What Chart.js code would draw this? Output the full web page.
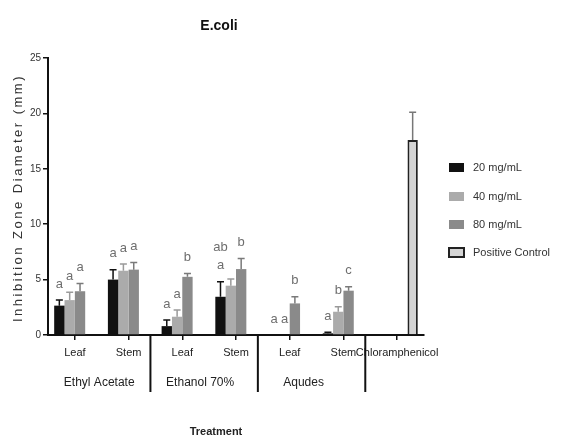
<!DOCTYPE html>
<html>
<head>
<meta charset="utf-8">
<script src="https://cdn.jsdelivr.net/npm/chart.js@4.4.1/dist/chart.umd.min.js"></script>
<style>
html,body{margin:0;padding:0;background:#fff;}
#wrap{position:relative;width:563px;height:440px;}
</style>
</head>
<body>
<div id="wrap"><canvas id="c" width="563" height="440"></canvas></div>
<script>
// ---- data ----
const chartTitle = "E.coli";
const categories = ["Leaf", "Stem", "Leaf", "Stem", "Leaf", "Stem", "Chloramphenicol"];
const groups = ["Ethyl Acetate", "Ethanol 70%", "Aqudes"];
const seriesNames = ["20 mg/mL", "40 mg/mL", "80 mg/mL", "Positive Control"];
const conc20 = [2.65, 5.0, 0.8, 3.45, 0, 0.15, null];
const err20  = [0.5, 0.9, 0.55, 1.35, 0, 0.1, null];
const conc40 = [3.15, 5.8, 1.65, 4.45, 0, 2.1, null];
const err40  = [0.7, 0.6, 0.6, 0.6, 0, 0.45, null];
const conc80 = [3.95, 5.9, 5.25, 5.95, 2.85, 4.0, null];
const err80  = [0.7, 0.65, 0.3, 0.95, 0.6, 0.35, null];
const posCtrl = [null, null, null, null, null, null, 17.6];
const errPos  = [null, null, null, null, null, null, 2.5];
const letters20 = ["a", "a", "a", "ab\na", "a", "a", ""];
const letters40 = ["a", "a", "a", "", "a", "b", ""];
const letters80 = ["a", "a", "b", "b", "b", "c", ""];
const yTicks = [0, 5, 10, 15, 20, 25];
const xTitle = "Treatment";
const yTitle = "Inhibition Zone Diameter (mm)";

const errs = [err20, err40, err80, errPos];
const letterSets = [letters20, letters40, letters80, null];

const FONT = "'Liberation Sans', Arial, sans-serif";

const errorBarPlugin = {
  id: 'errorBars',
  afterDatasetsDraw(chart) {
    const ctx = chart.ctx, ys = chart.scales.y;
    chart.data.datasets.forEach((ds, d) => {
      const meta = chart.getDatasetMeta(d);
      meta.data.forEach((bar, j) => {
        const v = ds.data[j], e = errs[d][j];
        if (v == null || !e) return;
        const yTop = ys.getPixelForValue(v + e);
        const yVal = ys.getPixelForValue(v);
        ctx.save();
        ctx.strokeStyle = ds.errColor;
        ctx.lineWidth = 1.5;
        ctx.beginPath();
        ctx.moveTo(bar.x, yVal);
        ctx.lineTo(bar.x, yTop);
        ctx.moveTo(bar.x - 3.5, yTop);
        ctx.lineTo(bar.x + 3.5, yTop);
        ctx.stroke();
        ctx.restore();
      });
    });
  }
};

const letterPlugin = {
  id: 'letters',
  afterDatasetsDraw(chart) {
    const ctx = chart.ctx, ys = chart.scales.y;
    ctx.save();
    ctx.font = "13px " + FONT;
    ctx.fillStyle = "#6e6e6e";
    ctx.textAlign = "center";
    ctx.textBaseline = "middle";
    chart.data.datasets.forEach((ds, d) => {
      const set = letterSets[d];
      if (!set) return;
      const meta = chart.getDatasetMeta(d);
      meta.data.forEach((bar, j) => {
        const txt = set[j];
        if (!txt) return;
        const v = ds.data[j] || 0, e = errs[d][j] || 0;
        const base = ys.getPixelForValue(v + e) - 16;
        const lines = txt.split("\n").reverse();
        lines.forEach((ln, k) => {
          if (ln) ctx.fillText(ln, bar.x, base - k * 18);
        });
      });
    });
    ctx.restore();
  }
};

const decorPlugin = {
  id: 'decor',
  afterDraw(chart) {
    const ctx = chart.ctx, xs = chart.scales.x, area = chart.chartArea;
    ctx.save();
    // title
    ctx.font = "bold 14px " + FONT;
    ctx.fillStyle = "#111";
    ctx.textAlign = "center";
    ctx.textBaseline = "middle";
    ctx.fillText(chartTitle, 219, 26);
    // separators
    const seps = [area.left];
    for (let i = 1; i <= groups.length; i++) {
      seps.push((xs.getPixelForValue(2 * i - 1) + xs.getPixelForValue(2 * i)) / 2 - 5);
    }
    ctx.strokeStyle = "#111";
    ctx.lineWidth = 2;
    seps.slice(1).forEach(x => {
      ctx.beginPath();
      ctx.moveTo(x, area.bottom);
      ctx.lineTo(x, 392);
      ctx.stroke();
    });
    // group labels
    ctx.font = "12px " + FONT;
    ctx.fillStyle = "#222";
    groups.forEach((g, i) => {
      const x = (seps[i] + seps[i + 1]) / 2 - 4 * i;
      ctx.fillText(g, x, 383);
    });
    // x title
    ctx.font = "bold 11px " + FONT;
    ctx.fillText(xTitle, 216, 432);
    // y title
    ctx.save();
    ctx.translate(18, 198);
    ctx.rotate(-Math.PI / 2);
    ctx.font = "13px " + FONT;
    ctx.fillStyle = "#333";
    try { ctx.letterSpacing = "2.5px"; } catch (e) {}
    ctx.fillText(yTitle, 0, 0);
    ctx.restore();
    // legend
    ctx.font = "11px " + FONT;
    ctx.textAlign = "left";
    const rows = [168, 197, 225, 253];
    chart.data.datasets.forEach((ds, d) => {
      const y = rows[d];
      ctx.fillStyle = ds.backgroundColor;
      ctx.fillRect(449, y - 5, 15, 9);
      if (ds.borderWidth) {
        ctx.strokeStyle = ds.borderColor;
        ctx.lineWidth = 2;
        ctx.strokeRect(449, y - 5, 15, 9);
      }
      ctx.fillStyle = "#333";
      ctx.fillText(ds.label, 473, y);
    });
    ctx.restore();
  }
};

new Chart(document.getElementById('c'), {
  type: 'bar',
  data: {
    labels: categories,
    datasets: [
      { label: seriesNames[0], data: conc20, backgroundColor: '#111111', errColor: '#111111', borderWidth: 0 },
      { label: seriesNames[1], data: conc40, backgroundColor: '#ababab', errColor: '#9a9a9a', borderWidth: 0 },
      { label: seriesNames[2], data: conc80, backgroundColor: '#8a8a8a', errColor: '#7a7a7a', borderWidth: 0 },
      { label: seriesNames[3], data: posCtrl, backgroundColor: '#d4d4d4', borderColor: '#222222', borderWidth: 2, errColor: '#777777' }
    ]
  },
  options: {
    responsive: false,
    animation: false,
    devicePixelRatio: 1,
    categoryPercentage: 0.77,
    barPercentage: 1.0,
    layout: { padding: { left: 18, right: 139, top: 58, bottom: 2 } },
    plugins: { legend: { display: false }, title: { display: false }, tooltip: { enabled: false } },
    scales: {
      x: {
        offset: true,
        grid: { display: true, drawOnChartArea: false, drawTicks: true, tickLength: 5, color: '#111', lineWidth: 1.5, offset: false },
        border: { display: true, color: '#111', width: 2 },
        ticks: { autoSkip: false, maxRotation: 0, minRotation: 0, padding: 6, color: '#222', font: { family: FONT, size: 11 } },
        title: { display: false, text: xTitle },
        afterFit(s) { s.height = 103; }
      },
      y: {
        min: 0, max: 25,
        afterBuildTicks(s) { s.ticks = yTicks.map(v => ({ value: v })); },
        grid: { display: true, drawOnChartArea: false, drawTicks: true, tickLength: 5, color: '#111', lineWidth: 1.5 },
        border: { display: true, color: '#111', width: 2 },
        ticks: { padding: 2, color: '#333', font: { family: FONT, size: 10 } },
        afterFit(s) { s.width = 30; }
      }
    }
  },
  plugins: [errorBarPlugin, letterPlugin, decorPlugin]
});
</script>
</body>
</html>
